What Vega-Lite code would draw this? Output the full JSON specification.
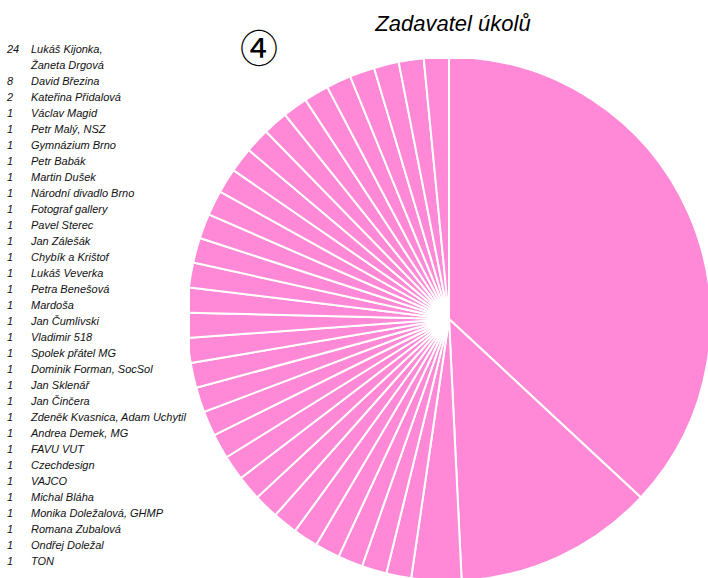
{
  "$schema": "https://vega.github.io/schema/vega-lite/v6.json",
  "autosize": "pad",
  "padding": {"left": 0, "top": 13, "right": 0, "bottom": 0},
  "background": "white",
  "bounds": "flush",
  "spacing": 0,
  "config": {"view": {"stroke": null}},
  "data": {
    "values": [
      {"count": 24, "name": "Lukáš Kijonka,\nŽaneta Drgová"},
      {"count": 8, "name": "David Březina"},
      {"count": 2, "name": "Kateřina Přidalová"},
      {"count": 1, "name": "Václav Magid"},
      {"count": 1, "name": "Petr Malý, NSZ"},
      {"count": 1, "name": "Gymnázium Brno"},
      {"count": 1, "name": "Petr Babák"},
      {"count": 1, "name": "Martin Dušek"},
      {"count": 1, "name": "Národní divadlo Brno"},
      {"count": 1, "name": "Fotograf gallery"},
      {"count": 1, "name": "Pavel Sterec"},
      {"count": 1, "name": "Jan Zálešák"},
      {"count": 1, "name": "Chybík a Krištof"},
      {"count": 1, "name": "Lukáš Veverka"},
      {"count": 1, "name": "Petra Benešová"},
      {"count": 1, "name": "Mardoša"},
      {"count": 1, "name": "Jan Čumlivski"},
      {"count": 1, "name": "Vladimir 518"},
      {"count": 1, "name": "Spolek přátel MG"},
      {"count": 1, "name": "Dominik Forman, SocSol"},
      {"count": 1, "name": "Jan Sklenář"},
      {"count": 1, "name": "Jan Činčera"},
      {"count": 1, "name": "Zdeněk Kvasnica, Adam Uchytil"},
      {"count": 1, "name": "Andrea Demek, MG"},
      {"count": 1, "name": "FAVU VUT"},
      {"count": 1, "name": "Czechdesign"},
      {"count": 1, "name": "VAJCO"},
      {"count": 1, "name": "Michal Bláha"},
      {"count": 1, "name": "Monika Doležalová, GHMP"},
      {"count": 1, "name": "Romana Zubalová"},
      {"count": 1, "name": "Ondřej Doležal"},
      {"count": 1, "name": "TON"},
      {"count": 1, "name": null},
      {"count": 1, "name": null}
    ]
  },
  "title": {
    "text": "④",
    "anchor": "start",
    "align": "center",
    "baseline": "middle",
    "font": "Noto Sans CJK JP",
    "fontSize": 38,
    "fontWeight": "normal",
    "color": "black",
    "offset": 0,
    "dx": 259,
    "dy": 76
  },
  "hconcat": [
    {
      "width": 190,
      "height": 520,
      "transform": [{"filter": "datum.name != null"}],
      "layer": [
        {
          "mark": {"type": "text", "align": "left", "baseline": "middle", "font": "Liberation Sans", "fontStyle": "italic", "fontSize": 11, "color": "#111", "x": 7},
          "encoding": {
            "y": {"field": "name", "type": "ordinal", "axis": null,
              "scale": {"type": "point", "padding": 0, "range": [-9, 503],
                "domain": ["Lukáš Kijonka,\nŽaneta Drgová", "__gap__", "David Březina", "Kateřina Přidalová", "Václav Magid", "Petr Malý, NSZ", "Gymnázium Brno", "Petr Babák", "Martin Dušek", "Národní divadlo Brno", "Fotograf gallery", "Pavel Sterec", "Jan Zálešák", "Chybík a Krištof", "Lukáš Veverka", "Petra Benešová", "Mardoša", "Jan Čumlivski", "Vladimir 518", "Spolek přátel MG", "Dominik Forman, SocSol", "Jan Sklenář", "Jan Činčera", "Zdeněk Kvasnica, Adam Uchytil", "Andrea Demek, MG", "FAVU VUT", "Czechdesign", "VAJCO", "Michal Bláha", "Monika Doležalová, GHMP", "Romana Zubalová", "Ondřej Doležal", "TON"]}},
            "text": {"field": "count", "type": "quantitative"}
          }
        },
        {
          "mark": {"type": "text", "align": "left", "baseline": "top", "dy": -6, "font": "Liberation Sans", "fontStyle": "italic", "fontSize": 11, "color": "#111", "lineBreak": "\n", "lineHeight": 16, "x": 31},
          "encoding": {
            "y": {"field": "name", "type": "ordinal", "axis": null},
            "text": {"field": "name", "type": "nominal"}
          }
        }
      ]
    },
    {
      "width": 518,
      "height": 520,
      "title": {"text": "Zadavatel úkolů", "font": "Liberation Sans", "fontStyle": "italic", "fontWeight": "normal", "fontSize": 22, "color": "black", "anchor": "middle", "offset": 23, "dx": 4},
      "mark": {"type": "arc", "radius": 262, "color": "#ff89d6", "stroke": "white", "strokeWidth": 2, "clip": true},
      "encoding": {
        "theta": {"field": "count", "type": "quantitative", "stack": true}
      }
    }
  ]
}
